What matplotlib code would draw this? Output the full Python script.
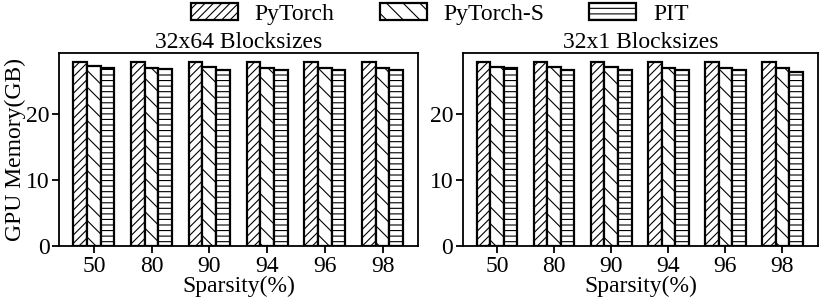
import matplotlib
matplotlib.use("Agg")
import matplotlib.pyplot as plt
import numpy as np

sparsity = ["50", "80", "90", "94", "96", "98"]
series_names = ["PyTorch", "PyTorch-S", "PIT"]
titles = ["32x64 Blocksizes", "32x1 Blocksizes"]

left_pytorch = [27.8, 27.8, 27.8, 27.8, 27.8, 27.8]
left_pytorch_s = [27.2, 27.0, 27.1, 27.0, 27.0, 27.0]
left_pit = [27.0, 26.8, 26.7, 26.7, 26.7, 26.7]

right_pytorch = [27.8, 27.8, 27.8, 27.8, 27.8, 27.8]
right_pytorch_s = [27.1, 27.1, 27.1, 27.0, 27.0, 26.9]
right_pit = [26.9, 26.7, 26.7, 26.7, 26.7, 26.4]

FS = 17
plt.rcParams['font.family'] = ['Liberation Serif', 'DejaVu Serif']
plt.rcParams['font.size'] = FS
plt.rcParams['hatch.linewidth'] = 0.8

fig = plt.figure(figsize=(8.22, 3.03), dpi=100)
ax1 = fig.add_axes([0.072, 0.188, 0.437, 0.637])
ax2 = fig.add_axes([0.563, 0.188, 0.432, 0.637])

hatches = ['////', '\\\\', '---']
x = np.arange(len(sparsity))
w = 0.237
handles = None
for ax, data, title in [(ax1, [left_pytorch, left_pytorch_s, left_pit], titles[0]),
                        (ax2, [right_pytorch, right_pytorch_s, right_pit], titles[1])]:
    hs = []
    for i, (vals, h) in enumerate(zip(data, hatches)):
        b = ax.bar(x + (i - 1) * w, vals, w, color='white', edgecolor='black',
                   hatch=h, linewidth=1.6, label=series_names[i])
        hs.append(b)
    handles = hs
    ax.set_xticks(x)
    ax.set_xticklabels(sparsity)
    ax.set_xlim(-0.6, 5.62)
    ax.set_ylim(0, 29.2)
    ax.set_yticks([0, 10, 20])
    ax.set_xlabel("Sparsity(%)", labelpad=-1)
    ax.set_title(title, fontsize=FS, pad=1)
    for s in ax.spines.values():
        s.set_linewidth(1.3)
    ax.tick_params(width=1.3, length=5, pad=2)

ax1.set_ylabel("GPU Memory(GB)", labelpad=0)

fig.legend(handles, series_names, loc='center', ncol=3, frameon=False,
           bbox_to_anchor=(0.535, 0.953), handlelength=2.0, handleheight=0.7,
           handletextpad=0.7, columnspacing=1.9, fontsize=FS,
           borderpad=0, borderaxespad=0)

fig.savefig("out.png", dpi=100)
